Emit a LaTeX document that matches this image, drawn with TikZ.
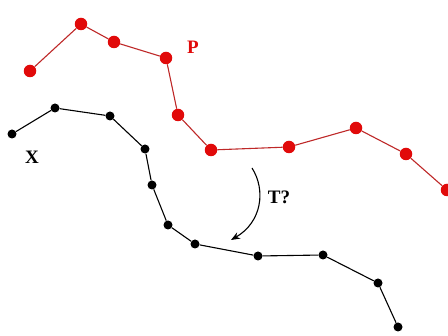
\documentclass[tikz,border=0pt]{standalone}
\usepackage{fontspec}
\setmainfont{Liberation Serif}
\usetikzlibrary{arrows.meta}
\definecolor{dotred}{RGB}{225,10,10}
\definecolor{linered}{RGB}{190,40,40}
\tikzset{
  % vertices of the two polylines
  reddot/.style={circle, fill=dotred, inner sep=0pt, minimum size=12.5pt},
  blackdot/.style={circle, fill=black, inner sep=0pt, minimum size=9pt},
  % segments between vertices
  redseg/.style={draw=linered, line width=1.1pt},
  blackseg/.style={draw=black, line width=1.1pt},
  curvelabel/.style={font=\fontsize{19}{19}\selectfont\bfseries},
  maparrow/.style={-{Stealth[length=9pt, width=7pt]}, line width=1.1pt}
}

\begin{document}
\begin{tikzpicture}[x=1pt, y=-1pt]
  \useasboundingbox (0,0) rectangle (448,336);

  % Curve P (red)
  \foreach \i/\px/\py in {1/30/71, 2/81/24, 3/114/42, 4/166/58, 5/178/115,
                          6/211/150, 7/289/147, 8/356/128, 9/406/154, 10/447/190}
    \node[reddot] (p\i) at (\px,\py) {};
  \foreach \i [remember=\i as \j (initially 1)] in {2,...,10}
    \draw[redseg] (p\j) -- (p\i);
  \node[curvelabel, text=dotred] (plabel) at (193,47) {P};

  % Curve X (black)
  \foreach \i/\px/\py in {1/12/134, 2/55/108, 3/110/116, 4/145/149, 5/152/185,
                          6/168/225, 7/195/244, 8/258/256, 9/323/255, 10/378/283, 11/398/327}
    \node[blackdot] (x\i) at (\px,\py) {};
  \foreach \i [remember=\i as \j (initially 1)] in {2,...,11}
    \draw[blackseg] (x\j) -- (x\i);
  \node[curvelabel] (xlabel) at (32,157) {X};

  % Unknown transform T
  \coordinate (tfrom) at (252,168);
  \coordinate (tto) at (231,240);
  \draw[maparrow] (tfrom) .. controls (266,190) and (262,222) .. (tto);
  \node[curvelabel] (tlabel) at (279,197) {T?};
\end{tikzpicture}
\end{document}
